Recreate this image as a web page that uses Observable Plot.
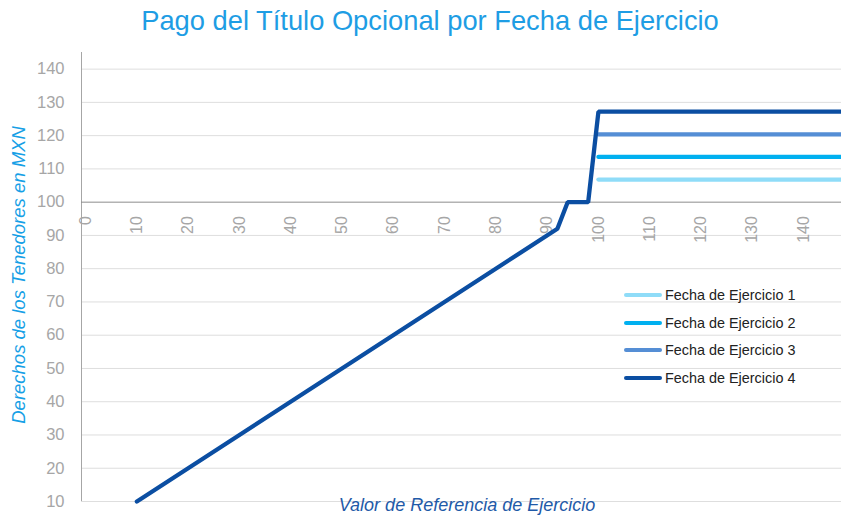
<!DOCTYPE html>
<html><head><meta charset="utf-8">
<script src="https://cdn.jsdelivr.net/npm/d3@7"></script>
<script src="https://cdn.jsdelivr.net/npm/@observablehq/plot@0.6"></script>
<style>
body{margin:0;background:#fff;font-family:"Liberation Sans",Arial,sans-serif;}
#wrap{position:relative;width:841px;height:518px;overflow:hidden;}
#title{position:absolute;left:0;top:5px;width:860px;text-align:center;font-size:27.3px;color:#1e9de4;}
#ylab{position:absolute;left:19px;top:275px;transform:translate(-50%,-50%) rotate(-90deg);white-space:nowrap;font-style:italic;font-size:18.5px;color:#16a0e6;}
#xlab{position:absolute;left:467px;top:495px;transform:translateX(-50%);white-space:nowrap;font-style:italic;font-size:18px;color:#1f5aa8;}
#legend{position:absolute;left:624px;top:281px;font-size:14.4px;color:#222;}
.row{height:27.7px;display:flex;align-items:center;}
.sw{width:38px;height:4px;border-radius:2px;margin-right:3px;}
</style></head>
<body><div id="wrap">
<div id="chart"></div>
<div id="title">Pago del Título Opcional por Fecha de Ejercicio</div>
<div id="ylab">Derechos de los Tenedores en MXN</div>
<div id="xlab">Valor de Referencia de Ejercicio</div>
<div id="legend"></div>
</div>
<script>
const seriesNames = ["Fecha de Ejercicio 1","Fecha de Ejercicio 2","Fecha de Ejercicio 3","Fecha de Ejercicio 4"];
const seriesColors = ["#8fdcf8","#00b0f0","#558ed5","#0b4ea2"];
// Fecha de Ejercicio 4 full path
const f4x = [10, 92, 94, 98, 100, 147.4];
const f4y = [10, 92, 100, 100, 127.2, 127.2];
// Other dates: flat payoff above 100
const flatX = [100, 147.4];
const f1y = [106.8, 106.8];
const f2y = [113.6, 113.6];
const f3y = [120.4, 120.4];
const yTicks = [10,20,30,40,50,60,70,80,90,100,110,120,130,140];
const xTicks = [0,10,20,30,40,50,60,70,80,90,100,110,120,130,140];

const rows = [];
[[flatX,f1y,0],[flatX,f2y,1],[flatX,f3y,2],[f4x,f4y,3]].forEach(([xs,ys,i])=>{
  xs.forEach((x,j)=>rows.push({x, y: ys[j], s: seriesNames[i]}));
});

const chart = Plot.plot({
  width: 841, height: 518,
  marginLeft: 81, marginRight: 0, marginTop: 52, marginBottom: 17,
  style: {fontFamily: '"Liberation Sans", Arial, sans-serif', background: "transparent"},
  x: {domain: [-0.8, 147.4], axis: null},
  y: {domain: [10, 145], ticks: yTicks, tickSize: 0, tickPadding: 17, label: null, tickFormat: d=>d},
  color: {domain: seriesNames, range: seriesColors},
  marks: [
    Plot.ruleY(yTicks.filter(d=>d!==100), {stroke: "#dedede", strokeWidth: 1}),
    Plot.ruleX([-0.8], {y1: 10, y2: 145, stroke: "#a6a6a6", strokeWidth: 1}),
    Plot.ruleY([100], {stroke: "#8c8c8c", strokeWidth: 1}),
    Plot.text(xTicks, {x: d=>d, y: 100, text: d=>String(d), rotate: -90, textAnchor: "end", dy: 14, fontSize: 16, fill: "#a6a6a6"}),
    Plot.line(rows, {x: "x", y: "y", z: "s", stroke: "s", strokeWidth: 4.3, strokeLinejoin: "miter", strokeLinecap: "round"})
  ]
});
chart.querySelectorAll('g[aria-label="y-axis tick label"]').forEach(e=>{e.setAttribute("fill","#a6a6a6");e.setAttribute("font-size","16.5");});
document.getElementById("chart").appendChild(chart);

const lg = document.getElementById("legend");
seriesNames.forEach((n,i)=>{
  const r = document.createElement("div"); r.className="row";
  r.innerHTML = `<div class="sw" style="background:${seriesColors[i]}"></div><span>${n}</span>`;
  lg.appendChild(r);
});
</script></body></html>
